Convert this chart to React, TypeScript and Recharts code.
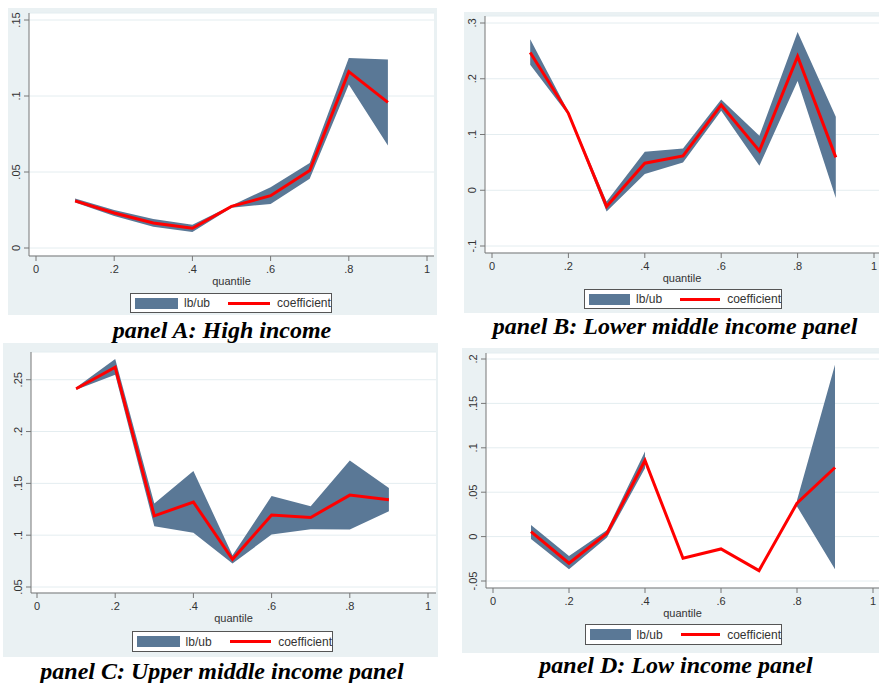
import React from 'react';
import { ComposedChart, Area, Line, XAxis, YAxis, CartesianGrid, Legend } from 'recharts';

// quantile grid shared by all four panels
const quantiles = [0.1, 0.2, 0.3, 0.4, 0.5, 0.6, 0.7, 0.8, 0.9];
const xTicks = [0, 0.2, 0.4, 0.6, 0.8, 1];

// panel A: High income
const coefA = [0.031, 0.023, 0.0165, 0.013, 0.0274, 0.0344, 0.051, 0.116, 0.0958];
const lbA = [0.030, 0.021, 0.014, 0.0105, 0.0265, 0.029, 0.0456, 0.1075, 0.0675];
const ubA = [0.0325, 0.025, 0.019, 0.0153, 0.028, 0.040, 0.056, 0.125, 0.124];
const yTicksA = [0, 0.05, 0.1, 0.15];

// panel B: Lower middle income
const coefB = [0.247, 0.138, -0.029, 0.0485, 0.0617, 0.153, 0.0707, 0.240, 0.059];
const lbB = [0.225, 0.135, -0.038, 0.029, 0.050, 0.1425, 0.044, 0.196, -0.014];
const ubB = [0.271, 0.141, -0.020, 0.069, 0.075, 0.163, 0.0976, 0.284, 0.132];
const yTicksB = [-0.1, 0, 0.1, 0.2, 0.3];

// panel C: Upper middle income
const coefC = [0.2413, 0.262, 0.1187, 0.1319, 0.0768, 0.1194, 0.1171, 0.1387, 0.1342];
const lbC = [0.2403, 0.2548, 0.1087, 0.1023, 0.0726, 0.1006, 0.1058, 0.1055, 0.1232];
const ubC = [0.2426, 0.270, 0.1306, 0.162, 0.0806, 0.1377, 0.128, 0.172, 0.1455];
const yTicksC = [0.05, 0.1, 0.15, 0.2, 0.25];

// panel D: Low income (no bounds for .5-.7)
const coefD = [0.0056, -0.030, 0.0038, 0.0857, -0.0244, -0.0139, -0.0383, 0.0376, 0.0778];
const lbD = [-0.0026, -0.0368, -0.001, 0.077, null, null, null, 0.034, -0.0368];
const ubD = [0.013, -0.0218, 0.0075, 0.0959, null, null, null, 0.041, 0.1936];
const yTicksD = [-0.05, 0, 0.05, 0.1, 0.15, 0.2];

const BAND = '#5a7896';
const RED = '#ff0000';
const BG = '#eaf1f3';
const AXIS = '#777';
const FONT = '"Liberation Sans", Arial, sans-serif';

const fmt = (v: number) => {
  if (v === 0) return '0';
  const s = String(Math.round(v * 1000) / 1000);
  return s.replace('0.', '.');
};

const YTick = (props: any) => {
  const { x, y, payload } = props;
  return (
    <text x={x} y={y} transform={`rotate(-90 ${x} ${y})`} textAnchor="middle"
      fontSize={11} fill="#333" fontFamily={FONT}>
      {fmt(payload.value)}
    </text>
  );
};

const LegendBox = () => (
  <div style={{
    boxSizing: 'border-box', width: '100%', height: '100%', border: '1px solid #555', background: '#fff',
    display: 'flex', alignItems: 'center', fontFamily: FONT, fontSize: 12, color: '#333',
  }}>
    <div style={{ marginLeft: 4, width: 43, height: 11, background: BAND }} />
    <span style={{ marginLeft: 6 }}>lb/ub</span>
    <div style={{ marginLeft: 18, width: 42, height: 3, background: RED }} />
    <span style={{ marginLeft: 7 }}>coefficient</span>
  </div>
);

type PanelProps = {
  left: number; top: number; width: number; height: number;
  margin: { top: number; right: number; bottom: number };
  yWidth: number;
  xPad: { left: number; right: number };
  yPad: { top: number; bottom: number };
  yDomain: [number, number];
  yTicks: number[];
  coef: number[]; lb: (number | null)[]; ub: (number | null)[];
  legend: { left: number; top: number; width: number; height: number };
};

function Panel(p: PanelProps) {
  const data = quantiles.map((q, i) => ({
    q,
    band: p.lb[i] == null || p.ub[i] == null ? null : [p.lb[i], p.ub[i]],
    coef: p.coef[i],
  }));
  return (
    <div style={{ position: 'absolute', left: p.left, top: p.top, width: p.width, height: p.height, background: BG }}>
      <ComposedChart width={p.width} height={p.height} data={data}
        margin={{ top: p.margin.top, right: p.margin.right, bottom: p.margin.bottom, left: 0 }}>
        <CartesianGrid vertical={false} stroke="#e4edf0" fill="#fff" />
        <XAxis type="number" dataKey="q" domain={[0, 1]} ticks={xTicks} tickFormatter={fmt}
          padding={p.xPad} height={30} tickSize={5} tickMargin={4}
          stroke={AXIS} tick={{ fontSize: 11, fill: '#333', fontFamily: FONT }}
          label={{ value: 'quantile', position: 'insideBottom', offset: 1, fontSize: 11, fill: '#333', fontFamily: FONT }} />
        <YAxis type="number" domain={p.yDomain} ticks={p.yTicks} width={p.yWidth} padding={p.yPad}
          tickSize={5} tickMargin={4} stroke={AXIS} tick={<YTick />} interval={0} />
        <Legend layout="vertical" align="center" verticalAlign="middle"
          wrapperStyle={{ left: p.legend.left, top: p.legend.top, width: p.legend.width, height: p.legend.height }}
          content={() => <LegendBox />} />
        <Area dataKey="band" type="linear" fill={BAND} fillOpacity={1} stroke="none"
          isAnimationActive={false} activeDot={false} dot={false} />
        <Line dataKey="coef" type="linear" stroke={RED} strokeWidth={3} dot={false}
          activeDot={false} isAnimationActive={false} />
      </ComposedChart>
    </div>
  );
}

const titleStyle: React.CSSProperties = {
  position: 'absolute', width: 440, height: 24, lineHeight: '24px', textAlign: 'center',
  fontFamily: '"Liberation Serif", "Times New Roman", serif', fontWeight: 'bold', fontStyle: 'italic',
  fontSize: 24, color: '#000', whiteSpace: 'nowrap',
};

export default function App() {
  return (
    <div style={{ position: 'absolute', left: 0, top: 0, width: 879, height: 683, background: '#fff', overflow: 'hidden' }}>
      <Panel left={8} top={8} width={429} height={307} margin={{ top: 5, right: 3, bottom: 29 }} yWidth={21}
        xPad={{ left: 7, right: 7 }} yPad={{ top: 7, bottom: 8 }} yDomain={[0, 0.15]} yTicks={yTicksA}
        coef={coefA} lb={lbA} ub={ubA} legend={{ left: 122, top: 285, width: 202, height: 20 }} />
      <Panel left={464} top={12} width={415} height={301} margin={{ top: 4, right: 0, bottom: 30 }} yWidth={21}
        xPad={{ left: 7, right: 5 }} yPad={{ top: 7, bottom: 7 }} yDomain={[-0.1, 0.3]} yTicks={yTicksB}
        coef={coefB} lb={lbB} ub={ubB} legend={{ left: 120, top: 277, width: 198, height: 20 }} />
      <Panel left={3} top={343} width={435} height={314} margin={{ top: 9, right: 2, bottom: 34 }} yWidth={28}
        xPad={{ left: 6, right: 8 }} yPad={{ top: 7, bottom: 6 }} yDomain={[0.05, 0.27]} yTicks={yTicksC}
        coef={coefC} lb={lbC} ub={ubC} legend={{ left: 129, top: 288, width: 201, height: 21 }} />
      <Panel left={462} top={348} width={417} height={305} margin={{ top: 5, right: 0, bottom: 35 }} yWidth={24}
        xPad={{ left: 7, right: 6 }} yPad={{ top: 6, bottom: 7 }} yDomain={[-0.05, 0.2]} yTicks={yTicksD}
        coef={coefD} lb={lbD} ub={ubD} legend={{ left: 123, top: 276, width: 197, height: 21 }} />

      <div style={{ ...titleStyle, left: 222 - 220, top: 318 }}>panel A: High income</div>
      <div style={{ ...titleStyle, left: 675 - 220, top: 314 }}>panel B: Lower middle income panel</div>
      <div style={{ ...titleStyle, left: 222 - 220, top: 659 }}>panel C: Upper middle income panel</div>
      <div style={{ ...titleStyle, left: 676 - 220, top: 653 }}>panel D: Low income panel</div>
    </div>
  );
}
